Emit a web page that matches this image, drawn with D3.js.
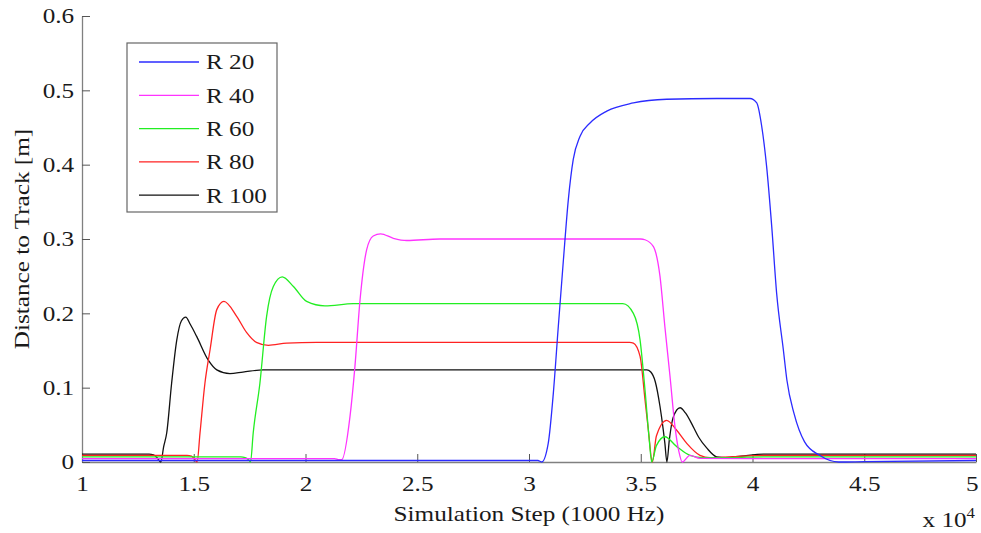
<!DOCTYPE html>
<html>
<head>
<meta charset="utf-8">
<script src="https://cdn.jsdelivr.net/npm/d3@7"></script>
<style>
  body { margin: 0; background: #fff; }
  svg { display: block; }
  text { font-family: "Liberation Serif", "Times New Roman", serif; fill: #1a1a1a; }
</style>
</head>
<body>
<svg id="chart" width="981" height="533"></svg>
<script>
// [simulation step, distance to track (m)]
const r20 = [[10000,0.002],[30400,0.002],[30570,0.0],[30860,0.025],[31090,0.093],[31310,0.182],[31540,0.272],[31760,0.353],[31980,0.407],[32280,0.438],[32730,0.456],[33480,0.472],[34670,0.483],[36160,0.488],[38400,0.489],[39890,0.489],[40190,0.483],[40410,0.452],[40630,0.398],[40860,0.317],[41080,0.227],[41380,0.151],[41540,0.11],[41860,0.065],[42330,0.027],[43000,0.009],[43860,0.0],[45000,0.0005],[50000,0.002]];
const r40 = [[10000,0.0045],[21300,0.0045],[21500,0.003],[21620,0.003],[21990,0.061],[22210,0.128],[22440,0.218],[22740,0.286],[23030,0.304],[23360,0.307],[23930,0.301],[24530,0.298],[26000,0.300],[35000,0.300],[35190,0.299],[35560,0.290],[35860,0.250],[36080,0.182],[36310,0.115],[36530,0.048],[36700,0.015],[36860,0.0],[37200,0.009],[37650,0.005],[40000,0.0045],[50000,0.0045]];
const r60 = [[10000,0.007],[17100,0.007],[17300,0.006],[17450,0.003],[17540,0.0],[17660,0.039],[17960,0.106],[18260,0.196],[18560,0.236],[18960,0.249],[19460,0.236],[20050,0.216],[20870,0.210],[22140,0.213],[34200,0.213],[34670,0.200],[34970,0.164],[35190,0.097],[35380,0.030],[35490,0.0],[35700,0.022],[36080,0.034],[36600,0.021],[37200,0.009],[37800,0.006],[39000,0.006],[40500,0.007],[50000,0.007]];
const r80 = [[10000,0.009],[14700,0.009],[14900,0.008],[15030,0.004],[15150,0.0],[15280,0.039],[15500,0.106],[15730,0.151],[16030,0.205],[16350,0.216],[16920,0.196],[17370,0.174],[17800,0.161],[18340,0.157],[19160,0.160],[20500,0.161],[34500,0.161],[34670,0.160],[34970,0.142],[35190,0.084],[35340,0.043],[35520,0.0],[35700,0.035],[36160,0.056],[36600,0.043],[37060,0.025],[37650,0.009],[38100,0.006],[39000,0.007],[40500,0.009],[50000,0.009]];
const r100 = [[10000,0.0105],[13000,0.0105],[13200,0.0095],[13350,0.006],[13530,0.0],[13650,0.02],[13790,0.039],[14010,0.106],[14240,0.164],[14450,0.190],[14640,0.195],[14850,0.185],[15130,0.169],[15650,0.137],[16030,0.124],[16620,0.119],[17200,0.121],[18110,0.124],[25000,0.124],[35270,0.124],[35450,0.121],[35650,0.108],[35860,0.075],[36000,0.045],[36080,0.025],[36170,0.0],[36280,0.030],[36450,0.060],[36760,0.073],[37000,0.066],[37340,0.048],[37600,0.033],[37950,0.019],[38400,0.007],[38800,0.006],[39500,0.008],[40500,0.0105],[50000,0.0105]];

const seriesNames = ['R 20', 'R 40', 'R 60', 'R 80', 'R 100'];
const seriesData = [r20, r40, r60, r80, r100];
const seriesColors = ['#2b2bff', '#ff33ff', '#22ee22', '#ff2222', '#111111'];
const xTicks = [10000, 15000, 20000, 25000, 30000, 35000, 40000, 45000, 50000];
const yTicks = [0, 0.1, 0.2, 0.3, 0.4, 0.5, 0.6];

// the original serif font is set wider than Liberation Serif
const stretch = 1.2;

const svg = d3.select('#chart');
const margin = { left: 82, right: 5, top: 16, bottom: 71 };
const width = 981 - margin.left - margin.right;
const height = 533 - margin.top - margin.bottom;

const g = svg.append('g').attr('transform', `translate(${margin.left},${margin.top})`);

const x = d3.scaleLinear().domain([10000, 50000]).range([0, width]);
const y = d3.scaleLinear().domain([0, 0.6]).range([height, 0]);

// axes, MATLAB style with inward ticks
const xAxis = g.append('g')
  .attr('transform', `translate(0,${height})`)
  .call(d3.axisBottom(x).tickValues(xTicks).tickSizeInner(-8).tickSizeOuter(0).tickPadding(14)
    .tickFormat(d => d3.format('~g')(d / 10000)));

const yAxis = g.append('g')
  .call(d3.axisLeft(y).tickValues(yTicks).tickSizeInner(-8).tickSizeOuter(0).tickPadding(8)
    .tickFormat(d => d3.format('~g')(d)));

[xAxis, yAxis].forEach(a => {
  a.select('.domain').attr('stroke', '#808080').attr('stroke-width', 1.3);
  a.selectAll('.tick line').attr('stroke', '#555').attr('stroke-width', 1);
  a.selectAll('.tick text')
    .style('font-family', '"Liberation Serif", serif')
    .style('font-size', '21px')
    .attr('fill', '#1a1a1a')
    .attr('transform', `scale(${stretch},1)`);
});
yAxis.selectAll('.tick text').attr('x', -6.5);
// keep the last x label inside the page
xAxis.selectAll('.tick text').filter(d => d === 50000).attr('x', -3.5);

const line = d3.line()
  .x(d => x(d[0]))
  .y(d => y(d[1]))
  .curve(d3.curveMonotoneX);

// draw R 100 first so R 20 sits on top
for (let i = seriesData.length - 1; i >= 0; i--) {
  g.append('path')
    .datum(seriesData[i])
    .attr('fill', 'none')
    .attr('stroke', seriesColors[i])
    .attr('stroke-width', 1.3)
    .attr('d', line);
}

// axis titles
svg.append('text')
  .attr('transform', `translate(${margin.left + width / 2},521) scale(${stretch},1)`)
  .attr('text-anchor', 'middle')
  .style('font-size', '21px')
  .text('Simulation Step (1000 Hz)');

svg.append('text')
  .attr('transform', `translate(29,${margin.top + height / 2}) rotate(-90) scale(${stretch},1)`)
  .attr('text-anchor', 'middle')
  .style('font-size', '21px')
  .text('Distance to Track [m]');

const expo = svg.append('text')
  .attr('transform', `translate(975,527) scale(${stretch},1)`)
  .attr('text-anchor', 'end')
  .style('font-size', '21px');
expo.append('tspan').text('x 10');
expo.append('tspan').attr('dy', -9).style('font-size', '14px').text('4');

// legend
const legend = svg.append('g').attr('transform', 'translate(127,43)');
legend.append('rect')
  .attr('width', 150)
  .attr('height', 169)
  .attr('fill', '#fff')
  .attr('stroke', '#666')
  .attr('stroke-width', 1.2);

seriesNames.forEach((name, i) => {
  const row = legend.append('g').attr('transform', `translate(0,${19 + i * 33.3})`);
  row.append('line')
    .attr('x1', 12).attr('x2', 72)
    .attr('stroke', seriesColors[i])
    .attr('stroke-width', 1.3);
  row.append('text')
    .attr('transform', `translate(79,0) scale(${stretch},1)`)
    .attr('dy', '0.35em')
    .style('font-size', '21px')
    .text(name);
});
</script>
</body>
</html>
